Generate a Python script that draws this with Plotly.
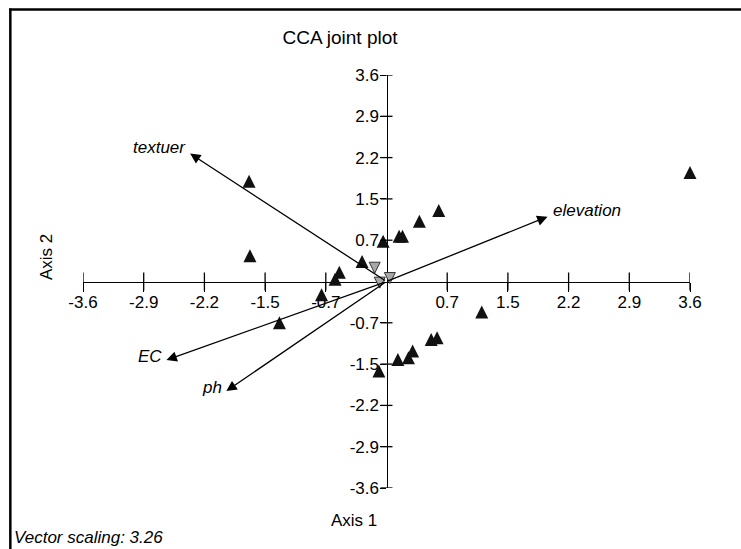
import plotly.graph_objects as go

# ---------------- data ----------------
site_x = [3.60, -1.63, -1.62, -0.29, -0.04, 0.15, 0.19, 0.39, 0.62, -0.56,
          -0.61, -0.77, -1.27, -0.09, 0.135, 0.26, 0.31, 0.53, 0.60, 1.13]
site_y = [1.90, 1.75, 0.45, 0.35, 0.70, 0.79, 0.79, 1.05, 1.24, 0.16,
          0.04, -0.23, -0.72, -1.56, -1.36, -1.33, -1.21, -1.01, -0.98, -0.53]

group_x = [-0.14, -0.08, 0.04]
group_y = [0.24, -0.02, 0.06]

vec_names = ["textuer", "elevation", "EC", "ph"]
vec_x = [-2.33, 1.91, -2.61, -1.90]
vec_y = [2.23, 1.13, -1.37, -1.91]

tick_vals = [-3.6, -2.88, -2.16, -1.44, -0.72, 0.72, 1.44, 2.16, 2.88, 3.6]
tick_text = ["-3.6", "-2.9", "-2.2", "-1.5", "-0.7", "0.7", "1.5", "2.2", "2.9", "3.6"]

# ---------------- layout constants ----------------
W, H = 741, 549
L, R, T, B = 82.7, 51, 75, 60.5
PW, PH = W - L - R, H - T - B
FONT = "Liberation Sans, Arial, sans-serif"
RMIN, RMAX = -3.6, 3.6
SPAN = RMAX - RMIN

UP_SIZE = 13
DOWN_SIZE = 11
d_up = (UP_SIZE / 2) * SPAN / PH
d_down = (DOWN_SIZE / 2) * SPAN / PH


def px_x(p):
    return (p - L) / PW


def px_y(p):
    return (H - B - p) / PH


fig = go.Figure()

fig.add_trace(go.Scatter(
    x=site_x, y=site_y, mode="markers", yaxis="y2", cliponaxis=False,
    marker=dict(symbol="arrow-up", size=UP_SIZE, color="#111111",
                line=dict(width=0)),
    hoverinfo="skip", showlegend=False))

fig.add_trace(go.Scatter(
    x=group_x, y=group_y, mode="markers", yaxis="y3", cliponaxis=False,
    marker=dict(symbol="arrow-down", size=DOWN_SIZE, color="#a8a8a8",
                line=dict(width=1, color="#333333")),
    hoverinfo="skip", showlegend=False))

axis_common = dict(
    range=[RMIN, RMAX], anchor="free", position=0.5,
    showline=True, linecolor="black", linewidth=1.3,
    ticks="outside", tickwidth=1.3, tickcolor="black",
    tickvals=tick_vals, ticktext=tick_text,
    tickfont=dict(family=FONT, size=17, color="black"),
    showgrid=False, zeroline=False, layer="below traces",
    fixedrange=True,
)

shapes = []
for t in tick_vals:
    shapes.append(dict(type="line", xref="x", yref="y", x0=t, x1=t,
                       ysizemode="pixel", yanchor=0, y0=-9, y1=9,
                       line=dict(color="black", width=1.3)))
    shapes.append(dict(type="line", xref="x", yref="y", y0=t, y1=t,
                       xsizemode="pixel", xanchor=0, x0=-6, x1=6,
                       line=dict(color="black", width=1.3)))

# frame of the original figure (only top and left edges visible)
shapes.append(dict(type="line", xref="paper", yref="paper",
                   x0=px_x(8.8), x1=px_x(W + 5), y0=px_y(9.5), y1=px_y(9.5),
                   line=dict(color="black", width=2.5)))
shapes.append(dict(type="line", xref="paper", yref="paper",
                   x0=px_x(10), x1=px_x(10), y0=px_y(8.3), y1=px_y(H + 5),
                   line=dict(color="black", width=2.5)))

annotations = []
label_pos = {
    "textuer": dict(xanchor="right", xshift=-2, yshift=6),
    "elevation": dict(xanchor="left", xshift=3, yshift=6),
    "EC": dict(xanchor="right", xshift=-2, yshift=4),
    "ph": dict(xanchor="right", xshift=-2, yshift=4),
}
for name, vx, vy in zip(vec_names, vec_x, vec_y):
    annotations.append(dict(
        x=vx, y=vy, xref="x", yref="y", ax=0, ay=0, axref="x", ayref="y",
        showarrow=True, arrowhead=2, arrowsize=1.6, arrowwidth=1.3,
        arrowcolor="black", text=""))
    annotations.append(dict(
        x=vx, y=vy, xref="x", yref="y", showarrow=False, text=name,
        yanchor="middle", font=dict(family=FONT, size=17, color="black", style="italic"),
        **label_pos[name]))

annotations.append(dict(x=px_x(354), y=px_y(521), xref="paper", yref="paper",
                        text="Axis 1", showarrow=False, xanchor="center", yanchor="middle",
                        font=dict(family=FONT, size=17, color="black")))
annotations.append(dict(x=px_x(46), y=px_y(257), xref="paper", yref="paper",
                        text="Axis 2", showarrow=False, textangle=-90,
                        xanchor="center", yanchor="middle",
                        font=dict(family=FONT, size=17, color="black")))
annotations.append(dict(x=px_x(12), y=px_y(538), xref="paper", yref="paper",
                        text="Vector scaling: 3.26", showarrow=False,
                        xanchor="left", yanchor="middle",
                        font=dict(family=FONT, size=17, color="black", style="italic")))

fig.update_layout(
    width=W, height=H,
    margin=dict(l=L, r=R, t=T, b=B, autoexpand=False),
    paper_bgcolor="white", plot_bgcolor="white",
    title=dict(text="CCA joint plot", x=340 / W, xanchor="center",
               y=1 - 37 / H, yanchor="middle",
               font=dict(family=FONT, size=19, color="black")),
    xaxis=dict(**axis_common, ticklen=9, ticklabelstandoff=-4),
    yaxis=dict(**axis_common, ticklen=6, ticklabelstandoff=-2),
    yaxis2=dict(range=[RMIN - d_up, RMAX - d_up], overlaying="y", visible=False,
                fixedrange=True),
    yaxis3=dict(range=[RMIN + d_down, RMAX + d_down], overlaying="y", visible=False,
                fixedrange=True),
    shapes=shapes, annotations=annotations,
    showlegend=False, hovermode=False,
)

fig.write_html(
    "out.html",
    config={"displayModeBar": False},
    post_script=(
        "document.documentElement.style.overflow='hidden';"
        "document.body.style.overflow='hidden';"
        "document.body.style.margin='0';document.body.style.padding='0';"
    ),
)
